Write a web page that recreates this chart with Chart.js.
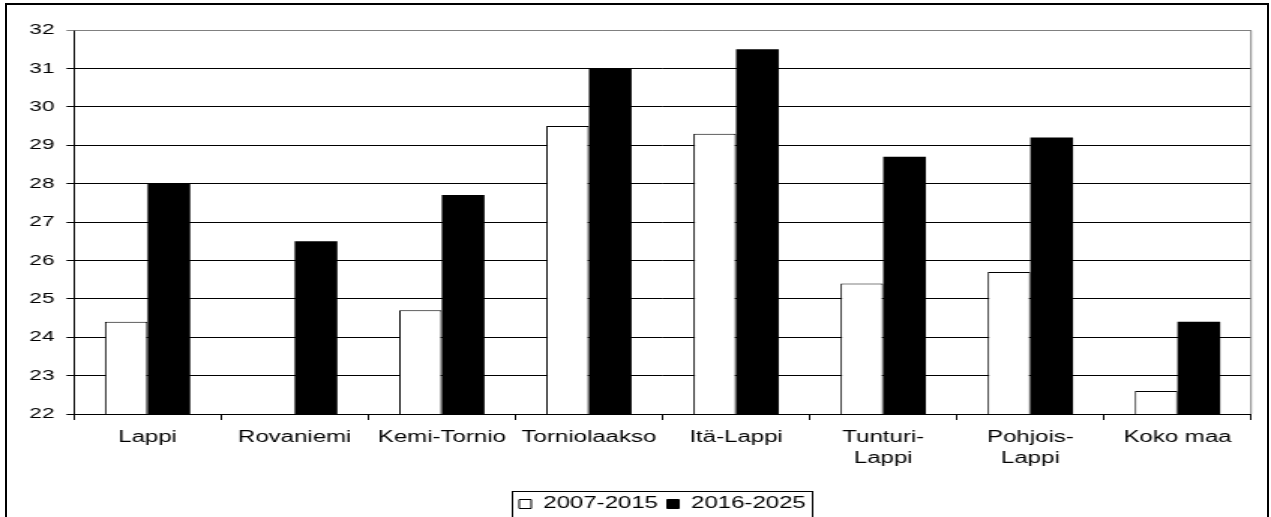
<!DOCTYPE html>
<html>
<head>
<meta charset="utf-8">
<script src="https://cdn.jsdelivr.net/npm/chart.js@4/dist/chart.umd.min.js"></script>
<style>
    html, body { margin: 0; padding: 0; background: #fff; overflow: hidden; }
    #frame {
        position: absolute; left: 5px; top: 3px; width: 1264px; height: 530px;
        border: 2px solid #000; box-sizing: border-box;
    }
    /* l'original est étiré horizontalement : on étire le canvas pareil */
    #chart {
        position: absolute; left: 0; top: 0;
        width: 1271px !important; height: 517px !important;
    }
</style>
</head>
<body>
<div id="frame"></div>
<canvas id="chart" width="847" height="517"></canvas>
<script>
//---------------------------------------------------------------------
// DONNÉES
//---------------------------------------------------------------------
const categories = ['Lappi', 'Rovaniemi', 'Kemi-Tornio', 'Torniolaakso', 'Itä-Lappi',
    ['Tunturi-', 'Lappi'], ['Pohjois-', 'Lappi'], 'Koko maa'];
const serie2007 = [24.4, null, 24.7, 29.5, 29.3, 25.4, 25.7, 22.6];
const serie2016 = [28.0, 26.5, 27.7, 31.0, 31.5, 28.7, 29.2, 24.4];
const seriesLabels = ['2007-2015', '2016-2025'];
const yMin = 22, yMax = 32, yStep = 1;

const FONT = 'Liberation Sans, Arial, sans-serif';

//---------------------------------------------------------------------
// PLUGINS : bord du graphique + légende centrée sous le graphique + cadre
//---------------------------------------------------------------------
const plotBorder = {
    id: 'plotBorder',
    afterDatasetsDraw(chart) {
        const { ctx, chartArea: a } = chart;
        ctx.save();
        ctx.strokeStyle = '#808080';
        ctx.lineWidth = 1;
        ctx.beginPath();
        ctx.moveTo(a.left, a.top + 0.5);
        ctx.lineTo(a.right, a.top + 0.5);
        ctx.lineTo(a.right, a.bottom);
        ctx.stroke();
        ctx.restore();
    }
};

const legendFrame = {
    id: 'legendFrame',
    afterUpdate(chart) {
        // centrer la légende sous la zone de tracé, pas sous tout le canvas
        const lg = chart.legend, a = chart.chartArea;
        const dx = (a.left + a.right) / 2 - (lg.left + lg.right) / 2;
        lg.left += dx;
        lg.right += dx;
        lg.legendHitBoxes.forEach(b => { b.left += dx; });
    },
    afterDraw(chart) {
        const boxes = chart.legend.legendHitBoxes;
        if (!boxes || !boxes.length) return;
        const left = Math.min(...boxes.map(b => b.left)) - 5;
        const right = Math.max(...boxes.map(b => b.left + b.width)) + 4;
        const top = Math.min(...boxes.map(b => b.top)) - 5;
        const bottom = Math.max(...boxes.map(b => b.top + b.height)) + 6;
        const ctx = chart.ctx;
        ctx.save();
        ctx.strokeStyle = '#000';
        ctx.lineWidth = 1;
        ctx.strokeRect(Math.round(left) + 0.5, Math.round(top) + 0.5,
            Math.round(right - left), Math.round(bottom - top));
        ctx.restore();
    }
};

//---------------------------------------------------------------------
// GRAPHIQUE
//---------------------------------------------------------------------
new Chart(document.getElementById('chart'), {
    type: 'bar',
    data: {
        labels: categories,
        datasets: [
            {
                label: seriesLabels[0],
                data: serie2007,
                backgroundColor: '#ffffff',
                borderColor: '#000000',
                borderWidth: 1,
                barPercentage: 1,
                categoryPercentage: 0.58
            },
            {
                label: seriesLabels[1],
                data: serie2016,
                backgroundColor: '#000000',
                borderColor: '#000000',
                borderWidth: 0,
                barPercentage: 1,
                categoryPercentage: 0.58
            }
        ]
    },
    options: {
        responsive: false,
        animation: false,
        devicePixelRatio: 1,
        layout: { padding: { left: 0, right: 13.3, top: 30, bottom: -5 } },
        plugins: {
            tooltip: { enabled: false },
            legend: {
                position: 'bottom',
                labels: {
                    color: '#000',
                    font: { family: FONT, size: 16 },
                    boxWidth: 8,
                    boxHeight: 9,
                    padding: 6,
                    generateLabels(chart) {
                        return chart.data.datasets.map((ds, i) => ({
                            text: ds.label,
                            fillStyle: ds.backgroundColor,
                            strokeStyle: '#000',
                            lineWidth: 1,
                            datasetIndex: i,
                            fontColor: '#000'
                        }));
                    }
                }
            }
        },
        scales: {
            x: {
                grid: {
                    offset: true,
                    drawOnChartArea: false,
                    drawTicks: true,
                    tickLength: 6,
                    color: '#000'
                },
                border: { color: '#000', width: 1 },
                ticks: {
                    color: '#000',
                    font: { family: FONT, size: 16, lineHeight: 1.3 },
                    padding: 7,
                    maxRotation: 0,
                    autoSkip: false
                },
                afterFit(scale) { scale.height = 76; }
            },
            y: {
                min: yMin,
                max: yMax,
                grid: {
                    color: ctx => ctx.tick && ctx.tick.value === yMax ? '#808080' : '#000',
                    tickLength: 5,
                    drawTicks: true
                },
                border: { color: '#000', width: 1 },
                ticks: {
                    stepSize: yStep,
                    color: '#000',
                    font: { family: FONT, size: 15 },
                    padding: 8
                },
                afterFit(scale) { scale.width = 49.3; }
            }
        }
    },
    plugins: [plotBorder, legendFrame]
});
</script>
</body>
</html>
